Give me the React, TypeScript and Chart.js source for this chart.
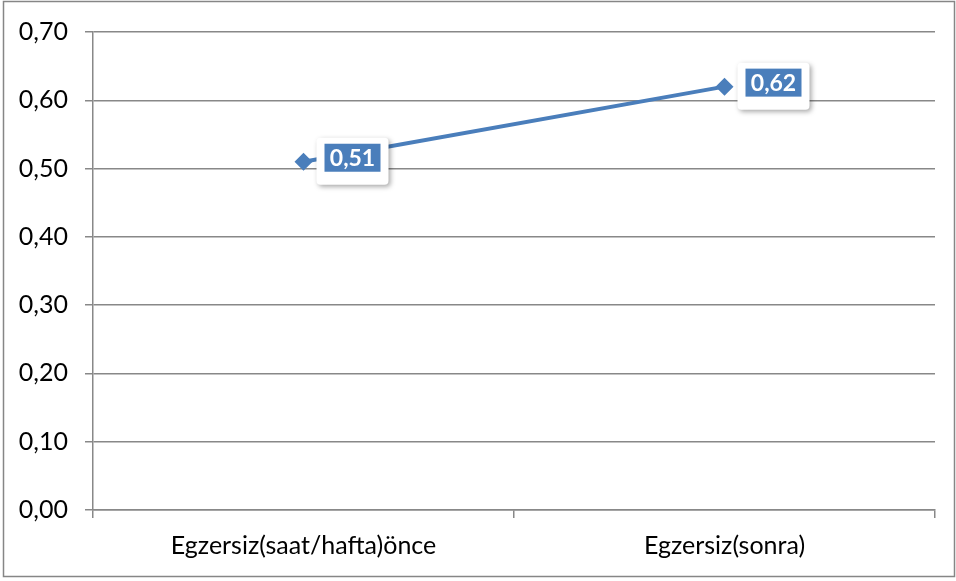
import React, { useEffect, useRef } from "react";
import { Chart, registerables } from "chart.js";

Chart.register(...registerables);

const categories = ["Egzersiz(saat/hafta)önce", "Egzersiz(sonra)"];
const values = [0.51, 0.62];
const yMin = 0;
const yMax = 0.7;
const yStep = 0.1;

const FONT = "Lato, 'Open Sans', sans-serif";
const LINE = "#4A7EBB";
const GRID = "#888888";

const fmt = (v: number) => v.toFixed(2).replace(".", ",");

const framePlugin = {
  id: "frame",
  afterDraw(chart: any) {
    const ctx = chart.ctx;
    ctx.save();
    ctx.strokeStyle = "#868686";
    ctx.lineWidth = 1.5;
    ctx.strokeRect(3.5, 1.5, 951, 575);
    ctx.restore();
  },
};

const labelPlugin = {
  id: "boxLabels",
  afterDatasetsDraw(chart: any) {
    const ctx = chart.ctx;
    const meta = chart.getDatasetMeta(0);
    meta.data.forEach((pt: any, i: number) => {
      const x = pt.x;
      const y = pt.y;
      ctx.save();
      ctx.shadowColor = "rgba(0,0,0,0.35)";
      ctx.shadowBlur = 5;
      ctx.shadowOffsetX = 2;
      ctx.shadowOffsetY = 2;
      ctx.fillStyle = "#ffffff";
      ctx.beginPath();
      const bx = x + 13, by = y - 24, bw = 72, bh = 47, r = 4;
      ctx.moveTo(bx + r, by);
      ctx.arcTo(bx + bw, by, bx + bw, by + bh, r);
      ctx.arcTo(bx + bw, by + bh, bx, by + bh, r);
      ctx.arcTo(bx, by + bh, bx, by, r);
      ctx.arcTo(bx, by, bx + bw, by, r);
      ctx.closePath();
      ctx.fill();
      ctx.restore();
      ctx.save();
      ctx.fillStyle = LINE;
      ctx.fillRect(x + 21, y - 18, 56, 28);
      ctx.fillStyle = "#ffffff";
      ctx.font = `bold 23px ${FONT}`;
      ctx.textAlign = "center";
      ctx.textBaseline = "middle";
      ctx.fillText(fmt(values[i]), x + 49, y - 3);
      ctx.restore();
    });
  },
};

export default function App() {
  const ref = useRef<HTMLCanvasElement | null>(null);
  useEffect(() => {
    if (!ref.current) return;
    const chart = new Chart(ref.current, {
      type: "line",
      data: {
        labels: categories,
        datasets: [
          {
            data: values,
            borderColor: LINE,
            backgroundColor: LINE,
            borderWidth: 4,
            pointStyle: "rectRot",
            pointRadius: 9,
            pointHoverRadius: 9,
            pointBackgroundColor: LINE,
            pointBorderColor: LINE,
            pointBorderWidth: 0,
            tension: 0,
          },
        ],
      },
      options: {
        responsive: false,
        animation: false,
        devicePixelRatio: 1,
        layout: { padding: { left: 0, top: 30, right: 21, bottom: 0 } },
        plugins: { legend: { display: false }, tooltip: { enabled: false } },
        scales: {
          x: {
            offset: true,
            grid: {
              offset: true,
              drawOnChartArea: false,
              drawTicks: true,
              tickLength: 8,
              color: GRID,
              lineWidth: 1.5,
            },
            border: { color: GRID, width: 1.5 },
            ticks: {
              color: "#000",
              font: { family: FONT, size: 25 },
              padding: 13,
              maxRotation: 0,
            },
            afterFit: (s: any) => {
              s.height = 71;
            },
          },
          y: {
            min: yMin,
            max: yMax,
            grid: {
              color: GRID,
              lineWidth: 1.5,
              drawTicks: true,
              tickLength: 8,
            },
            border: { color: GRID, width: 1.5 },
            ticks: {
              stepSize: yStep,
              color: "#000",
              font: { family: FONT, size: 25 },
              padding: 17,
              callback: (v: any) => fmt(Number(v)),
            },
            afterFit: (s: any) => {
              s.width = 93;
            },
          },
        },
      },
      plugins: [labelPlugin, framePlugin],
    });
    return () => chart.destroy();
  }, []);
  return (
    <div style={{ position: "fixed", left: 0, top: 0, width: 956, height: 581, background: "#fff" }}>
      <canvas ref={ref} width={956} height={581} style={{ width: 956, height: 581, display: "block" }} />
    </div>
  );
}
